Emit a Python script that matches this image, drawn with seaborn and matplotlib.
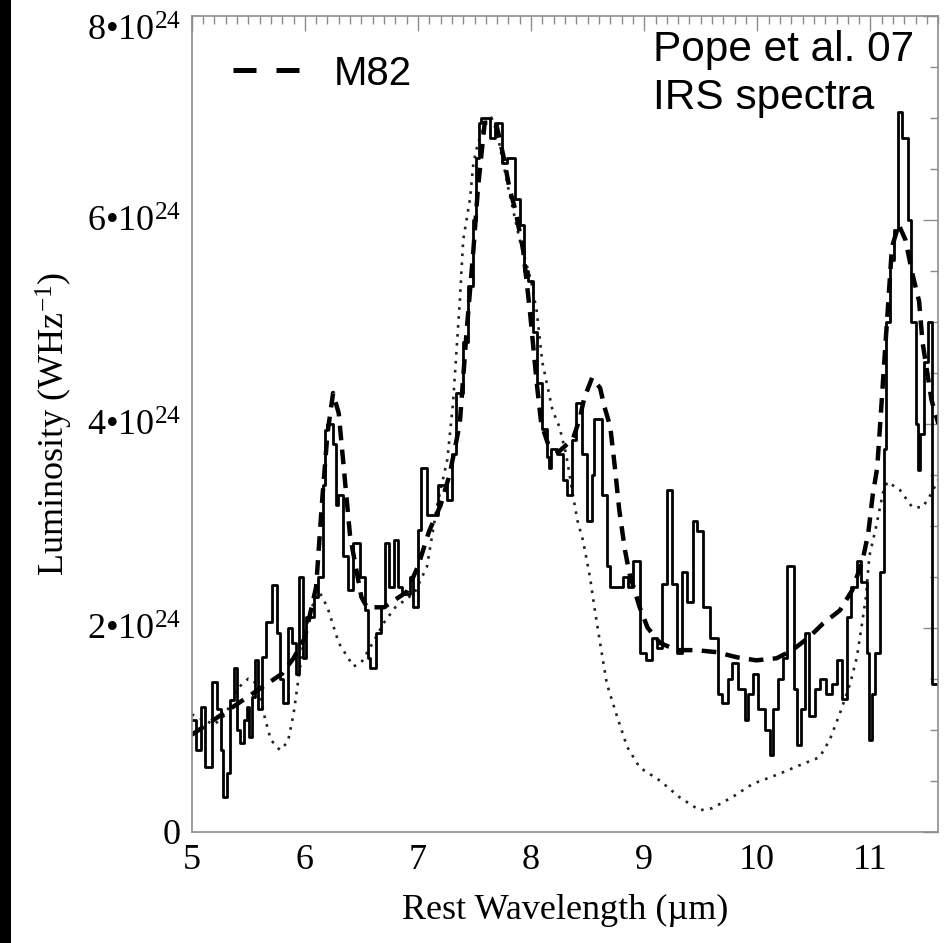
import numpy as np
import pandas as pd
import matplotlib
matplotlib.use("Agg")
import matplotlib.pyplot as plt
import seaborn as sns
from matplotlib.lines import Line2D
from matplotlib.patches import Rectangle
from matplotlib.ticker import FixedLocator, MultipleLocator
from matplotlib.transforms import ScaledTranslation

# ---------------- data (luminosity in units of 1e24 W/Hz) ----------------
# Pope et al. 07 IRS spectrum (histogram steps: left edge, value)
irs_wave = [5.00, 5.04, 5.08, 5.12, 5.18, 5.22, 5.26, 5.28, 5.31, 5.34, 5.37, 5.40,
            5.43, 5.46, 5.49, 5.51, 5.53, 5.56, 5.59, 5.62, 5.66, 5.71, 5.75, 5.78,
            5.81, 5.85, 5.89, 5.92, 5.95, 5.98, 6.01, 6.08, 6.12, 6.16, 6.18, 6.20,
            6.25, 6.28, 6.29, 6.34, 6.38, 6.43, 6.49, 6.53, 6.56, 6.58, 6.63, 6.67,
            6.71, 6.74, 6.79, 6.82, 6.86, 6.93, 6.96, 7.00, 7.03, 7.08, 7.18, 7.26,
            7.30, 7.34, 7.40, 7.44, 7.49, 7.51, 7.54, 7.56, 7.64, 7.68, 7.74, 7.79,
            7.86, 7.90, 7.94, 7.97, 8.02, 8.05, 8.10, 8.14, 8.16, 8.18, 8.23, 8.28,
            8.32, 8.36, 8.40, 8.45, 8.49, 8.54, 8.56, 8.63, 8.67, 8.70, 8.81, 8.86,
            8.90, 8.96, 9.02, 9.07, 9.11, 9.16, 9.20, 9.25, 9.29, 9.33, 9.38, 9.43,
            9.47, 9.52, 9.58, 9.65, 9.69, 9.74, 9.78, 9.83, 9.89, 9.92, 9.96, 10.01,
            10.07, 10.11, 10.14, 10.18, 10.23, 10.26, 10.32, 10.35, 10.39, 10.42, 10.46,
            10.51, 10.55, 10.61, 10.66, 10.70, 10.75, 10.79, 10.83, 10.88, 10.92,
            10.97, 10.99, 11.01, 11.04, 11.08, 11.12, 11.14, 11.17, 11.21, 11.24,
            11.28, 11.33, 11.36, 11.40, 11.42, 11.44, 11.47, 11.51, 11.54, 11.60]
irs_lum = [1.10, 0.80, 1.22, 0.63, 1.47, 1.20, 0.80, 0.34, 0.58, 1.29, 1.60, 1.00,
           0.87, 1.10, 1.22, 0.93, 1.32, 1.68, 1.20, 1.71, 2.06, 2.42, 1.95, 1.50,
           1.26, 2.00, 1.85, 1.55, 2.50, 1.70, 2.10, 2.30, 2.50, 3.40, 3.94, 4.00,
           3.80, 3.20, 3.30, 2.70, 2.37, 2.83, 2.50, 2.17, 1.70, 1.60, 1.95, 2.20,
           2.83, 2.40, 2.86, 2.40, 2.33, 2.50, 2.20, 2.96, 3.57, 3.10, 3.40, 3.25,
           3.70, 4.30, 4.80, 5.35, 6.00, 6.60, 6.95, 7.00, 6.80, 6.95, 6.55, 6.60,
           6.20, 5.95, 5.50, 5.40, 4.90, 4.40, 3.95, 3.67, 3.57, 3.75, 3.70, 3.45,
           3.30, 3.84, 4.20, 3.70, 3.05, 3.50, 4.05, 3.30, 2.60, 2.40, 2.50, 2.40,
           2.65, 1.75, 1.68, 1.90, 1.80, 2.43, 3.35, 2.43, 1.75, 2.55, 2.25, 3.05,
           2.95, 2.20, 1.90, 1.35, 1.26, 1.50, 1.65, 1.40, 1.10, 1.35, 1.55, 1.20,
           1.00, 0.75, 1.20, 1.50, 1.70, 2.60, 1.40, 0.85, 1.20, 1.95, 1.13,
           1.40, 1.50, 1.35, 1.45, 1.68, 1.30, 2.10, 2.40, 2.65, 2.45,
           1.75, 0.90, 1.35, 1.75, 2.55, 3.75, 5.00, 5.60, 5.90, 7.05,
           6.80, 6.00, 5.00, 4.00, 3.55, 3.90, 4.60, 5.00, 1.45, 1.45]

# M82 template (dashed)
m82_wave = [5.00, 5.20, 5.40, 5.60, 5.80, 5.90, 6.00, 6.10, 6.15, 6.20, 6.25, 6.30,
            6.35, 6.40, 6.45, 6.50, 6.55, 6.70, 6.90, 7.00, 7.10, 7.20, 7.28, 7.37,
            7.43, 7.49, 7.53, 7.59, 7.69, 7.76, 7.81, 7.86, 7.93, 7.99, 8.02, 8.05,
            8.09, 8.15, 8.24, 8.37, 8.43, 8.47, 8.54, 8.61, 8.65, 8.70, 8.74, 8.78,
            8.83, 8.87, 8.96, 9.03, 9.14, 9.29, 9.46, 9.64, 9.82, 9.99, 10.17, 10.31,
            10.46, 10.58, 10.73, 10.84, 10.93, 10.98, 11.02, 11.06, 11.08, 11.11,
            11.14, 11.19, 11.25, 11.31, 11.37, 11.43, 11.46, 11.54, 11.60]
m82_lum = [0.95, 1.10, 1.25, 1.40, 1.55, 1.70, 1.90, 2.40, 3.20, 3.90, 4.30, 4.10,
           3.50, 2.90, 2.60, 2.30, 2.20, 2.20, 2.35, 2.60, 2.95, 3.20, 3.50, 4.00,
           4.90, 5.70, 6.30, 6.95, 6.95, 6.60, 6.30, 6.10, 5.70, 5.10, 4.75, 4.40,
           4.00, 3.80, 3.72, 3.85, 4.05, 4.25, 4.45, 4.35, 4.16, 3.97, 3.58, 3.15,
           2.76, 2.53, 2.20, 2.00, 1.85, 1.78, 1.78, 1.76, 1.71, 1.68, 1.70, 1.78,
           1.91, 2.04, 2.17, 2.37, 2.66, 2.92, 3.30, 3.57, 3.90, 4.40,
           4.90, 5.73, 5.95, 5.80, 5.47, 5.20, 4.80, 4.23, 4.00]

# second template (dotted)
dot_wave = [5.00, 5.10, 5.20, 5.30, 5.40, 5.50, 5.55, 5.60, 5.65, 5.70, 5.78, 5.85,
            5.90, 5.95, 6.00, 6.06, 6.13, 6.20, 6.30, 6.43, 6.50, 6.60, 6.70, 6.80,
            6.97, 7.08, 7.17, 7.26, 7.31, 7.34, 7.37, 7.40, 7.46, 7.49, 7.53, 7.60,
            7.65, 7.70, 7.80, 7.90, 8.00, 8.05, 8.10, 8.19, 8.25, 8.31, 8.37, 8.41,
            8.46, 8.52, 8.56, 8.61, 8.67, 8.76, 8.85, 8.96, 9.14, 9.31, 9.49, 9.60,
            9.78, 9.96, 10.13, 10.20, 10.37, 10.55, 10.64, 10.73, 10.82, 10.88, 10.92,
            10.96, 10.99, 11.05, 11.11, 11.15, 11.26, 11.37, 11.46, 11.52, 11.60]
dot_lum = [1.15, 1.10, 1.05, 1.15, 1.40, 1.50, 1.48, 1.35, 1.10, 0.90, 0.80, 0.88,
           1.15, 1.55, 1.95, 2.20, 2.35, 2.20, 1.85, 1.62, 1.66, 1.85, 2.05, 2.20,
           2.34, 2.60, 3.20, 3.65, 4.20, 4.70, 5.20, 5.80, 6.20, 6.55, 6.75, 6.95,
           7.00, 6.85, 6.30, 5.80, 5.40, 5.10, 4.60, 4.13, 3.97, 3.70, 3.30, 3.05,
           2.85, 2.50, 2.20, 1.85, 1.45, 1.13, 0.83, 0.63, 0.50, 0.34, 0.21, 0.23,
           0.34, 0.47, 0.54, 0.57, 0.65, 0.73, 0.90, 1.16, 1.45, 1.71, 2.00,
           2.30, 2.70, 2.99, 3.32, 3.43, 3.35, 3.18, 3.18, 3.28, 3.45]

y_ticks = [0, 2, 4, 6, 8]
y_tick_labels = ["0", "2•10$^{24}$", "4•10$^{24}$", "6•10$^{24}$", "8•10$^{24}$"]
x_ticks = [5, 6, 7, 8, 9, 10, 11]
x_tick_labels = ["5", "6", "7", "8", "9", "10", "11"]

# ---------------- style ----------------
sns.set_theme(style="white")
plt.rcParams["font.family"] = ["Liberation Serif", "DejaVu Serif"]
plt.rcParams["mathtext.fontset"] = "custom"
plt.rcParams["mathtext.rm"] = "Liberation Serif"
plt.rcParams["mathtext.default"] = "regular"
plt.rcParams["text.color"] = "black"
plt.rcParams["axes.labelcolor"] = "black"

fig = plt.figure(figsize=(9.48, 9.43), dpi=100)
fig.patch.set_facecolor("white")
ax = fig.add_axes([0.2022, 0.118, 0.7876, 0.8655])
ax.set_facecolor("white")

df_irs = pd.DataFrame({"wave": irs_wave, "lum": irs_lum})
df_m82 = pd.DataFrame({"wave": m82_wave, "lum": m82_lum})
df_dot = pd.DataFrame({"wave": dot_wave, "lum": dot_lum})

sns.lineplot(data=df_dot, x="wave", y="lum", ax=ax, color="#222222",
             lw=1.9, linestyle=(0, (1.0, 2.4)), estimator=None, sort=False)
sns.lineplot(data=df_irs, x="wave", y="lum", ax=ax, color="black",
             lw=2.0, drawstyle="steps-post", estimator=None, sort=False)
sns.lineplot(data=df_m82, x="wave", y="lum", ax=ax, color="black",
             lw=3.2, linestyle=(0, (3.3, 2.1)), estimator=None, sort=False)

ax.set_xlim(5, 11.6)
ax.set_ylim(0, 8)

ax.xaxis.set_major_locator(FixedLocator(x_ticks))
ax.set_xticklabels(x_tick_labels)
ax.xaxis.set_minor_locator(MultipleLocator(0.1))
ax.yaxis.set_major_locator(FixedLocator(y_ticks))
ax.set_yticklabels(y_tick_labels)
ax.yaxis.set_minor_locator(MultipleLocator(0.5))

grey = "#8c8c8c"
for sp in ax.spines.values():
    sp.set_color(grey)
    sp.set_linewidth(1.2)
    sp.set_visible(True)

ax.tick_params(axis="both", which="both", direction="in", top=True, right=True,
               colors=grey, labelcolor="black", width=1.0)
ax.tick_params(axis="both", which="major", length=11, labelsize=26)
ax.tick_params(axis="both", which="minor", length=5.5)
ax.tick_params(axis="x", which="major", pad=9)
ax.tick_params(axis="y", which="major", pad=8)

# top label sits a little lower so its exponent stays inside the image
top_lab = ax.get_yticklabels()[-1]
top_lab.set_transform(top_lab.get_transform() +
                      ScaledTranslation(0, -13 / 100, fig.dpi_scale_trans))

ax.set_xlabel("Rest Wavelength (µm)", fontsize=26, labelpad=12)
ax.set_ylabel("Luminosity (WHz$^{-1}$)", fontsize=26, labelpad=8)

sans = ["Liberation Sans", "DejaVu Sans"]
ax.text(0.6185, 0.982, "Pope et al. 07\nIRS spectra", transform=ax.transAxes,
        ha="left", va="top", fontsize=30.5, family=sans, color="black",
        linespacing=1.25)

handle = Line2D([], [], color="black", lw=3.6, linestyle=(0, (4.6, 4.0)))
leg = ax.legend(handles=[handle], labels=["M82"], loc="center left",
                bbox_to_anchor=(0.0553, 0.929), frameon=False, borderpad=0,
                borderaxespad=0, handlelength=1.65, handletextpad=0.85,
                prop={"family": sans, "size": 29})
for t in leg.get_texts():
    t.set_color("black")

# black strip along the left edge of the screenshot
fig.patches.append(Rectangle((0, 0), 0.0115, 1, transform=fig.transFigure,
                             facecolor="black", edgecolor="none", zorder=10))

fig.savefig("out.png", dpi=100, facecolor="white")
